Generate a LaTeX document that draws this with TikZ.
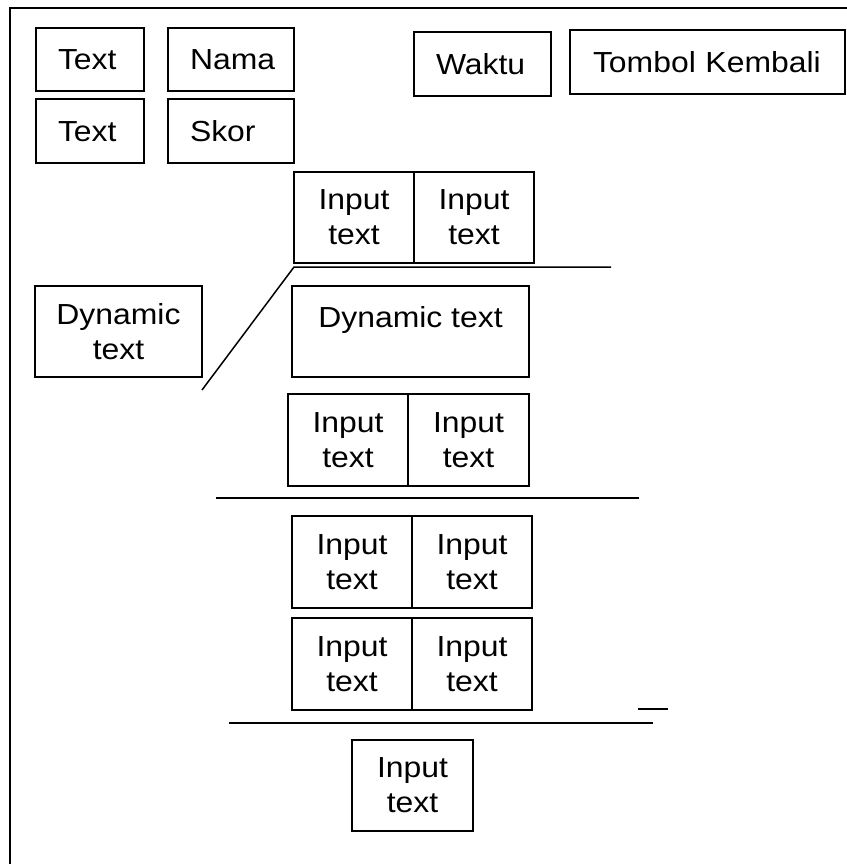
\documentclass[tikz,border=0pt]{standalone}
\usepackage{fontspec}
\setmainfont[FakeStretch=1.1]{Liberation Sans}
\begin{document}
\begin{tikzpicture}[x=1pt,y=-1pt,
  font=\fontsize{29}{35}\selectfont,
  box/.style={draw, line width=1.5pt, inner sep=0pt, outer sep=0pt},
  onel/.style={box, align=left, anchor=west, text height=21pt, text depth=0pt},
  twol/.style={box, align=center, minimum width=120pt, minimum height=92pt},
  rule/.style={line width=1.5pt}]
\useasboundingbox (0,0) rectangle (846,864);

% outer frame (left and top edges only)
\coordinate (fbl) at (10,866);
\coordinate (ftl) at (10,8);
\coordinate (ftr) at (848,8);
\draw[line width=2.4pt] (fbl) -- (ftl) -- (ftr);

% header: labels, name, score, time, back button
\node[onel, minimum width=108pt, minimum height=63pt, text width=64pt, inner xsep=22pt] (t1) at (36,59.5) {Text};
\node[onel, minimum width=126pt, minimum height=63pt, text width=82pt, inner xsep=22pt] (nama) at (168,59.5) {Nama};
\node[onel, minimum width=108pt, minimum height=64pt, text width=64pt, inner xsep=22pt] (t2) at (36,131) {Text};
\node[onel, minimum width=126pt, minimum height=64pt, text width=82pt, inner xsep=22pt] (skor) at (168,131) {Skor};
\node[onel, minimum width=137pt, minimum height=64pt, text width=93pt, inner xsep=22pt] (waktu) at (414,64) {Waktu};
\node[onel, minimum width=273pt, minimum height=64pt, text width=229pt, inner xsep=23pt] (kembali) at (570,62) {Tombol Kembali};

% first pair of input fields
\node[twol, minimum height=91pt] (r1a) at (354,217.5) {Input\\text};
\node[twol, minimum height=91pt] (r1b) at (474,217.5) {Input\\text};

\coordinate (l1a) at (294,267);
\coordinate (l1b) at (611,267);
\coordinate (d1) at (202,390);
\draw[rule] (d1) -- (l1a) -- (l1b);

% dynamic text areas
\node[box, align=center, minimum width=167pt, minimum height=91pt] (dynL) at (118.5,331.5) {Dynamic\\text};
\node[box, minimum width=237pt, minimum height=91pt, text height=21pt, text depth=30pt] (dynR) at (410.5,331.5) {Dynamic text};

% second pair
\node[twol] (r2a) at (348,440) {Input\\text};
\node[twol, minimum width=121pt] (r2b) at (468.5,440) {Input\\text};

\coordinate (l2a) at (216,498);
\coordinate (l2b) at (639,498);
\draw[rule] (l2a) -- (l2b);

% third and fourth pairs
\node[twol] (r3a) at (352,562) {Input\\text};
\node[twol] (r3b) at (472,562) {Input\\text};
\node[twol] (r4a) at (352,664) {Input\\text};
\node[twol] (r4b) at (472,664) {Input\\text};

\coordinate (s1) at (638,709);
\coordinate (s2) at (668,709);
\draw[rule] (s1) -- (s2);

\coordinate (l3a) at (229,723);
\coordinate (l3b) at (653,723);
\draw[rule] (l3a) -- (l3b);

% last input field
\node[twol, minimum width=121pt, minimum height=91pt] (last) at (412.5,785.5) {Input\\text};
\end{tikzpicture}
\end{document}
